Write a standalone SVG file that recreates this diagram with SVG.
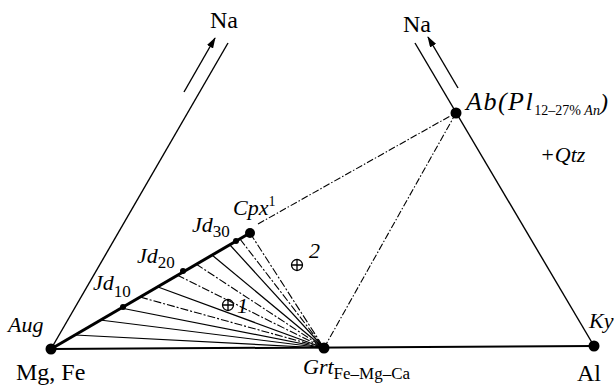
<svg xmlns="http://www.w3.org/2000/svg" width="614" height="387" viewBox="0 0 614 387">
<style>
.ln{stroke:#000;stroke-width:1.4;fill:none}
.thick{stroke:#000;stroke-width:3;fill:none}
.dd{stroke:#000;stroke-width:1.1;fill:none;stroke-dasharray:7 2 1.5 2}
.tie{stroke:#000;stroke-width:1.2;fill:none}
.tied{stroke:#000;stroke-width:1.1;fill:none;stroke-dasharray:8 2 2 2}
.r{font-family:"Liberation Serif",serif;font-size:24px;fill:#000}
.i{font-family:"Liberation Serif",serif;font-style:italic;font-size:22px;fill:#000}
.dot{fill:#000}
</style>
<defs>
<marker id="ah" markerWidth="11" markerHeight="7" refX="10" refY="3.5" orient="auto" markerUnits="userSpaceOnUse">
<path d="M0,0 L11,3.5 L0,7 Z" fill="#000"/>
</marker>
</defs>
<g id="connectors">
<line class="ln" x1="51" y1="349" x2="228" y2="43"/>
<line class="ln" x1="184" y1="92" x2="215" y2="38" marker-end="url(#ah)"/>
<line class="ln" x1="415" y1="43" x2="594" y2="346"/>
<line class="ln" x1="458" y1="88" x2="428" y2="37" marker-end="url(#ah)"/>
<line x1="51" y1="349" x2="594" y2="346" stroke="#000" stroke-width="2"/>
<line class="dd" x1="456" y1="113" x2="324" y2="348"/>
<line class="dd" x1="258" y1="224" x2="452" y2="115"/>
<line class="tie" x1="75" y1="335" x2="324" y2="348"/>
<line class="tie" x1="100" y1="320" x2="324" y2="348"/>
<line class="tie" x1="121" y1="308" x2="324" y2="348"/>
<line class="tied" x1="140" y1="297" x2="324" y2="348"/>
<line class="tie" x1="158" y1="287" x2="324" y2="348"/>
<line class="tied" x1="177" y1="275" x2="324" y2="348"/>
<line class="tied" x1="196" y1="264" x2="324" y2="348"/>
<line class="tie" x1="212" y1="255" x2="324" y2="348"/>
<line class="tie" x1="230" y1="245" x2="324" y2="348"/>
<line class="tied" x1="240" y1="239" x2="324" y2="348"/>
<line class="tied" x1="250" y1="233" x2="324" y2="348"/>
<line class="thick" x1="51" y1="349" x2="250" y2="233"/>
</g>
<g id="MgFe"><circle class="dot" cx="51" cy="349" r="5.5"/><text class="r" x="16" y="380">Mg, Fe</text><text class="i" x="8" y="332">Aug</text></g>
<g id="Grt"><circle class="dot" cx="324" cy="348" r="5.5"/><text class="i" x="303" y="374">Grt<tspan font-size="17" font-style="normal" dy="5">Fe–Mg–Ca</tspan></text></g>
<g id="Al"><circle class="dot" cx="594" cy="346" r="5.5"/><text class="r" x="577" y="381">Al</text><text class="i" x="589" y="328">Ky</text></g>
<g id="Ab"><circle class="dot" cx="456" cy="113" r="5.5"/><text class="i" x="466" y="110"><tspan font-size="26" letter-spacing="1.5">Ab(Pl</tspan><tspan font-size="14" font-style="normal" dy="5">12–27% </tspan><tspan font-size="14">An</tspan><tspan font-size="24" dy="-5">)</tspan></text></g>
<g id="Cpx"><circle class="dot" cx="250" cy="233" r="5"/><text class="i" x="233" y="215">Cpx<tspan font-size="14" font-style="normal" dy="-9">1</tspan></text></g>
<g id="Jd10"><circle class="dot" cx="123" cy="307" r="3"/><text class="i" x="93" y="290">Jd<tspan font-size="17" font-style="normal" dy="7">10</tspan></text></g>
<g id="Jd20"><circle class="dot" cx="183" cy="271" r="3"/><text class="i" x="137" y="263">Jd<tspan font-size="17" font-style="normal" dy="5">20</tspan></text></g>
<g id="Jd30"><circle class="dot" cx="236" cy="241" r="3"/><text class="i" x="192" y="232">Jd<tspan font-size="17" font-style="normal" dy="5">30</tspan></text></g>
<g id="NaL"><text class="r" x="224" y="28" text-anchor="middle">Na</text></g>
<g id="NaR"><text class="r" x="417" y="32" text-anchor="middle">Na</text></g>
<g id="Qtz"><text class="i" x="540" y="162">+Qtz</text></g>
<g id="p1"><circle cx="228" cy="305" r="5.5" fill="none" stroke="#000" stroke-width="1.3"/><path d="M222.5,305 H233.5 M228,299.5 V310.5" stroke="#000" stroke-width="1.3"/><text class="i" x="237" y="313">1</text></g>
<g id="p2"><circle cx="297" cy="265" r="5.5" fill="none" stroke="#000" stroke-width="1.3"/><path d="M291.5,265 H302.5 M297,259.5 V270.5" stroke="#000" stroke-width="1.3"/><text class="i" x="309" y="258">2</text></g>
</svg>
